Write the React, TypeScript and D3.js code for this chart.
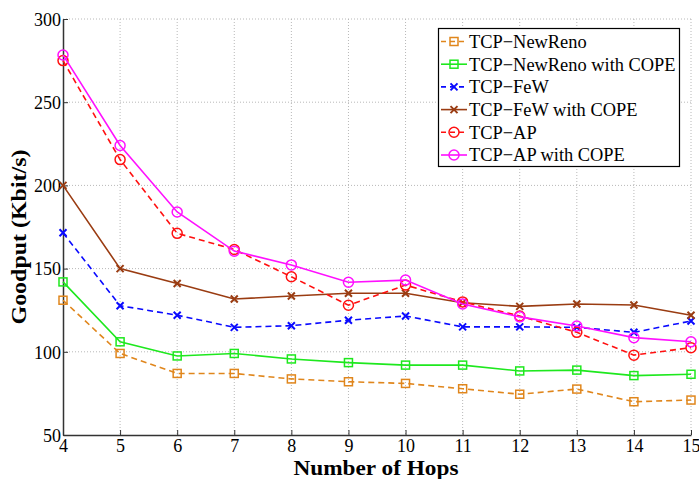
import React, { useRef, useEffect } from 'react';
import * as d3 from 'd3';

// hops on the x axis
const hops = [4, 5, 6, 7, 8, 9, 10, 11, 12, 13, 14, 15];
const yTicks = [50, 100, 150, 200, 250, 300];

const newReno = [131, 99, 87, 87, 83.7, 82, 81, 77.8, 74.5, 77.6, 70, 71];
const newRenoCope = [142, 106, 97.5, 99, 95.7, 93.5, 92, 92, 88.5, 89, 85.7, 86.5];
const few = [171.5, 127.7, 122, 114.7, 115.7, 119, 121.5, 115, 115, 114.7, 111.7, 118.5];
const fewCope = [200, 150, 141, 131.7, 133.5, 135.2, 135.2, 129.5, 127.3, 128.7, 128.1, 122];
const ap = [275, 215.5, 171.2, 161.5, 145.1, 128, 140.1, 130, 121.5, 111.7, 98, 102.5];
const apCope = [278.4, 224, 184, 160.5, 152.2, 141.8, 143.1, 128.7, 121, 115.5, 108.5, 106];

const seriesNames = [
  'TCP\u2212NewReno',
  'TCP\u2212NewReno with COPE',
  'TCP\u2212FeW',
  'TCP\u2212FeW with COPE',
  'TCP\u2212AP',
  'TCP\u2212AP with COPE',
];
const seriesValues = [newReno, newRenoCope, few, fewCope, ap, apCope];
const colors = ['#e0861c', '#1ee81e', '#0a0aff', '#9a3c12', '#ff1010', '#ff10ff'];
const dashed = [true, false, true, false, true, false];
const markers = ['square', 'square', 'x', 'x', 'circle', 'circle'];

const App = () => {
  const ref = useRef<SVGSVGElement>(null);

  useEffect(() => {
    const svg = d3.select(ref.current);
    svg.selectAll('*').remove();

    const W = 699, H = 479;
    const left = 63, right = 691, top = 19, bottom = 435;
    const font = '"Liberation Serif", "Times New Roman", serif';

    const x = d3.scaleLinear().domain([4, 15]).range([left, right]);
    const y = d3.scaleLinear().domain([50, 300]).range([bottom, top]);

    svg.attr('width', W).attr('height', H);
    svg.append('rect').attr('width', W).attr('height', H).attr('fill', '#fff');

    // grid
    const grid = svg.append('g').attr('stroke', '#b8b8b8').attr('stroke-width', 1).attr('stroke-dasharray', '1,2');
    grid.selectAll('.vg').data(hops.slice(1)).enter().append('line')
      .attr('x1', d => x(d)).attr('x2', d => x(d)).attr('y1', top).attr('y2', bottom);
    grid.selectAll('.hg').data(yTicks.slice(1)).enter().append('line')
      .attr('x1', left).attr('x2', right).attr('y1', d => y(d)).attr('y2', d => y(d));

    // axes
    const xAxis = svg.append('g').attr('transform', `translate(0,${bottom})`)
      .call(d3.axisBottom(x).tickValues(hops).tickFormat(d3.format('d')).tickSizeInner(-5).tickSizeOuter(0).tickPadding(7));
    const yAxis = svg.append('g').attr('transform', `translate(${left},0)`)
      .call(d3.axisLeft(y).tickValues(yTicks).tickSizeInner(-5).tickSizeOuter(0).tickPadding(2));
    [xAxis, yAxis].forEach(a => {
      a.select('.domain').attr('stroke', '#333').attr('stroke-width', 1.5);
      a.selectAll('.tick line').attr('stroke', '#333');
      a.selectAll('.tick text').attr('font-family', font).attr('font-size', 18).attr('fill', '#000');
    });
    xAxis.selectAll('.tick text').attr('dy', '0.55em');
    yAxis.selectAll('.tick text').attr('dy', '0.35em');

    // axis titles
    svg.append('text').attr('x', 376).attr('y', 475).attr('text-anchor', 'middle')
      .attr('font-family', font).attr('font-weight', 'bold').attr('font-size', 20)
      .attr('textLength', 165).attr('lengthAdjust', 'spacingAndGlyphs').text('Number of Hops');
    svg.append('text').attr('transform', `translate(26,237) rotate(-90)`).attr('text-anchor', 'middle')
      .attr('font-family', font).attr('font-weight', 'bold').attr('font-size', 21)
      .attr('textLength', 175).attr('lengthAdjust', 'spacingAndGlyphs').text('Goodput (Kbit/s)');

    const line = d3.line<number>().x((_, i) => x(hops[i])).y(d => y(d));

    const drawMarker = (g: any, kind: string, cx: number, cy: number, color: string) => {
      if (kind === 'square') {
        g.append('rect').attr('x', cx - 4).attr('y', cy - 4).attr('width', 8).attr('height', 8)
          .attr('fill', 'none').attr('stroke', color).attr('stroke-width', 1.5);
      } else if (kind === 'circle') {
        g.append('circle').attr('cx', cx).attr('cy', cy).attr('r', 5)
          .attr('fill', 'none').attr('stroke', color).attr('stroke-width', 1.5);
      } else {
        g.append('path').attr('d', `M${cx - 3.5},${cy - 3.5}L${cx + 3.5},${cy + 3.5}M${cx - 3.5},${cy + 3.5}L${cx + 3.5},${cy - 3.5}`)
          .attr('stroke', color).attr('stroke-width', 2);
      }
    };

    const plot = svg.append('g');
    seriesValues.forEach((vals, si) => {
      plot.append('path').datum(vals).attr('d', line).attr('fill', 'none')
        .attr('stroke', colors[si]).attr('stroke-width', 1.6)
        .attr('stroke-dasharray', dashed[si] ? '6,4' : null);
      vals.forEach((v, i) => drawMarker(plot, markers[si], x(hops[i]), y(v), colors[si]));
    });

    // legend
    const lg = svg.append('g');
    lg.append('rect').attr('x', 438.5).attr('y', 28.5).attr('width', 241).attr('height', 138)
      .attr('fill', '#fff').attr('stroke', '#000').attr('stroke-width', 1.2);
    seriesNames.forEach((name, si) => {
      const cy = 41.5 + si * 22.7;
      lg.append('line').attr('x1', 441).attr('x2', 467).attr('y1', cy).attr('y2', cy)
        .attr('stroke', colors[si]).attr('stroke-width', 1.6)
        .attr('stroke-dasharray', dashed[si] ? '5,4' : null);
      drawMarker(lg, markers[si], 454, cy, colors[si]);
      lg.append('text').attr('x', 469).attr('y', cy).attr('dy', '0.35em')
        .attr('font-family', font).attr('font-size', 18.4).text(name);
    });
  }, []);

  return <svg ref={ref} style={{ position: 'absolute', left: 0, top: 0 }} />;
};

export default App;
